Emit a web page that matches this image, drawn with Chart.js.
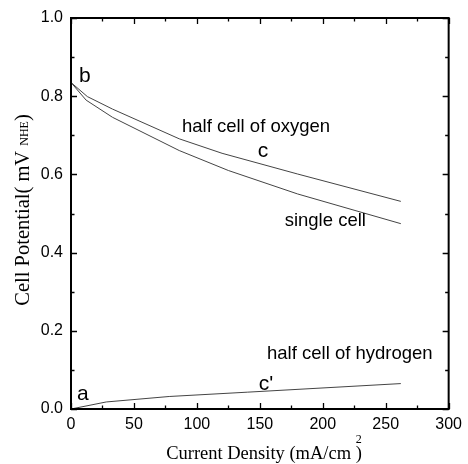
<!DOCTYPE html>
<html>
<head>
<meta charset="utf-8">
<script src="https://cdn.jsdelivr.net/npm/chart.js@4"></script>
<style>
  body { margin: 0; background: #fff; }
  canvas { display: block; }
</style>
</head>
<body>
<canvas id="myChart" width="468" height="464"></canvas>
<script>
// values
const oxygenX = [0, 13, 33, 86, 120, 180, 262];
const oxygenY = [0.835, 0.799, 0.767, 0.691, 0.654, 0.601, 0.531];

const singleX = [0, 12, 33, 86, 125, 180, 262];
const singleY = [0.835, 0.790, 0.746, 0.661, 0.610, 0.550, 0.474];

const hydrogenX = [0, 28, 78, 140, 262];
const hydrogenY = [0, 0.018, 0.032, 0.043, 0.065];

const xTicks = [0, 50, 100, 150, 200, 250, 300];
const yTicks = [0.0, 0.2, 0.4, 0.6, 0.8, 1.0];

const labels = [
  { text: 'b', x: 11, y: 0.85, size: 21 },
  { text: 'half cell of oxygen', x: 147, y: 0.722, size: 18.5 },
  { text: 'c', x: 152.5, y: 0.66, size: 21 },
  { text: 'single cell', x: 202, y: 0.482, size: 18.5 },
  { text: 'half cell of hydrogen', x: 221.5, y: 0.14, size: 18.5 },
  { text: "c'", x: 155, y: 0.063, size: 21 },
  { text: 'a', x: 9.5, y: 0.037, size: 21 }
];

function pts(xs, ys) {
  return xs.map((x, i) => ({ x: x, y: ys[i] }));
}

const sans = 'Arial, "Liberation Sans", Helvetica, sans-serif';
const serif = '"Times New Roman", "Liberation Serif", serif';

const framePlugin = {
  id: 'frame',
  afterDraw(chart) {
    const c = chart.ctx;
    const a = chart.chartArea;
    const xs = chart.scales.x, ys = chart.scales.y;
    c.save();
    c.strokeStyle = '#000';
    c.lineWidth = 2;
    c.strokeRect(a.left, a.top, a.right - a.left, a.bottom - a.top);

    // inward ticks on all four sides
    c.lineWidth = 1.3;
    c.beginPath();
    for (let v = 0; v <= 300; v += 25) {
      const px = Math.round(xs.getPixelForValue(v)) + 0.5;
      const len = v % 50 === 0 ? 6 : 3.5;
      c.moveTo(px, a.bottom); c.lineTo(px, a.bottom - len);
      c.moveTo(px, a.top); c.lineTo(px, a.top + len);
    }
    for (let k = 0; k <= 10; k++) {
      const py = Math.round(ys.getPixelForValue(k / 10)) + 0.5;
      const len = k % 2 === 0 ? 6 : 3.5;
      c.moveTo(a.left, py); c.lineTo(a.left + len, py);
      c.moveTo(a.right, py); c.lineTo(a.right - len, py);
    }
    c.stroke();

    // curve labels
    c.fillStyle = '#000';
    c.textAlign = 'center';
    c.textBaseline = 'middle';
    labels.forEach(l => {
      c.font = l.size + 'px ' + sans;
      c.fillText(l.text, xs.getPixelForValue(l.x), ys.getPixelForValue(l.y));
    });

    // x axis title with superscript
    c.font = '18.5px ' + serif;
    c.textAlign = 'left';
    c.textBaseline = 'alphabetic';
    const t1 = 'Current Density (mA/cm';
    const t2 = ' )';
    const w1 = c.measureText(t1).width;
    const w2 = c.measureText(t2).width;
    const x0 = 264 - (w1 + w2) / 2;
    c.fillText(t1, x0, 459);
    c.fillText(t2, x0 + w1, 459);
    c.font = '12px ' + serif;
    c.fillText('2', x0 + w1 + w2 - 6, 443);

    // y axis title with subscript
    c.translate(29, 210);
    c.rotate(-Math.PI / 2);
    c.font = '20.5px ' + serif;
    const s1 = 'Cell Potential( mV ';
    const s3 = ')';
    const m1 = c.measureText(s1).width;
    const m3 = c.measureText(s3).width;
    c.font = '12px ' + serif;
    const s2 = 'NHE';
    const m2 = c.measureText(s2).width;
    let sx = -(m1 + m2 + m3) / 2;
    c.font = '20.5px ' + serif;
    c.fillText(s1, sx, 0);
    c.font = '12px ' + serif;
    c.fillText(s2, sx + m1, -1);
    c.font = '20.5px ' + serif;
    c.fillText(s3, sx + m1 + m2, 0);
    c.restore();
  }
};

const ctx = document.getElementById('myChart');

new Chart(ctx, {
  type: 'line',
  data: {
    datasets: [
      { label: 'half cell of oxygen', data: pts(oxygenX, oxygenY) },
      { label: 'single cell', data: pts(singleX, singleY) },
      { label: 'half cell of hydrogen', data: pts(hydrogenX, hydrogenY) }
    ].map(d => Object.assign(d, {
      borderColor: '#444',
      borderWidth: 1,
      pointRadius: 0,
      tension: 0,
      fill: false
    }))
  },
  options: {
    responsive: false,
    animation: false,
    layout: { padding: { top: 18, right: 15, left: 0, bottom: 0 } },
    plugins: {
      legend: { display: false },
      tooltip: { enabled: false }
    },
    scales: {
      x: {
        type: 'linear',
        min: 0,
        max: 300,
        grid: { display: false, drawTicks: false },
        border: { display: false },
        afterBuildTicks: s => { s.ticks = xTicks.map(v => ({ value: v })); },
        afterFit: s => { s.height = 55; },
        ticks: {
          color: '#000',
          padding: 6,
          maxRotation: 0,
          font: { family: sans, size: 16 }
        }
      },
      y: {
        min: 0,
        max: 1,
        grid: { display: false, drawTicks: false },
        border: { display: false },
        afterBuildTicks: s => { s.ticks = yTicks.map(v => ({ value: v })); },
        afterFit: s => { s.width = 71; },
        ticks: {
          color: '#000',
          padding: 8,
          font: { family: sans, size: 16 },
          callback: v => v.toFixed(1)
        }
      }
    }
  },
  plugins: [framePlugin]
});
</script>
</body>
</html>
